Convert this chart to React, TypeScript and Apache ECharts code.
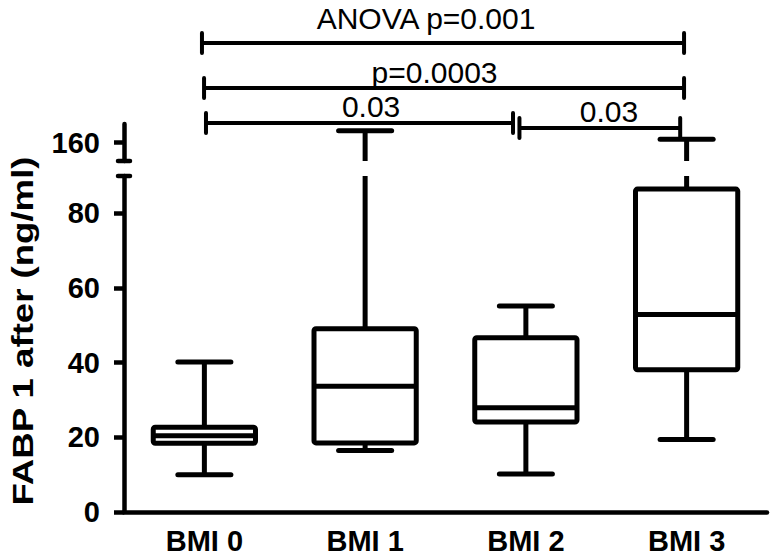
import React, { useEffect, useRef } from 'react';
import * as echarts from 'echarts';

// ---- data ----
const categories = ['BMI 0', 'BMI 1', 'BMI 2', 'BMI 3'];
const whiskerLow = [10.0, 16.5, 10.2, 19.4];
const quartile1 = [18.4, 18.5, 24.1, 38.1];
const medians = [20.4, 33.7, 27.9, 52.9];
const quartile3 = [22.7, 49.1, 46.7, 86.5];
const whiskerHigh = [40.2, 163.2, 55.2, 160.9];

const lowerTicks = [0, 20, 40, 60, 80];
const upperTicks = [160];
const LOWER_MIN = 0;
const LOWER_MAX = 90;
const UPPER_MIN = 155;
const UPPER_MAX = 165;

// comparison brackets (x in category units, level in px-from-top units of the annotation band)
const bracketLabels = ['ANOVA p=0.001', 'p=0.0003', '0.03', '0.03'];
const bracketStart = [-0.015, -0.002, 0.01, 1.96];
const bracketEnd = [2.984, 2.984, 1.92, 2.96];
const bracketLevel = [43, 88, 123, 128];
const labelCenter = [1.379, 1.432, 1.037, 2.517];
const labelLevel = [18.7, 72.5, 106.5, 111];

const yTitle = 'FABP 1 after (ng/ml)';

// ---- layout ----
const FONT = '"Liberation Sans", Arial, Helvetica, sans-serif';
const GRID_LEFT = 124;
const GRID_RIGHT = 7;
const LOWER_TOP = 176;
const LOWER_HEIGHT = 336;
const UPPER_TOP = 124;
const UPPER_HEIGHT = 37;
const ANNOT_HEIGHT = 124;

function makeBoxRenderer(lo: number, hi: number) {
  return (params: any, api: any) => {
    const x = api.value(0);
    const mn = api.value(1);
    const q1 = api.value(2);
    const md = api.value(3);
    const q3 = api.value(4);
    const mx = api.value(5);
    const band = api.size([1, 0])[0];
    const halfBox = band * 0.318;
    const halfCap = band * 0.165;
    const cx = api.coord([x, md])[0];
    const y = (v: number) => api.coord([x, v])[1];
    const children: any[] = [];
    const seg = (a: number, b: number) => {
      if (b < lo || a > hi) return;
      const a2 = Math.max(lo, a);
      const b2 = Math.min(hi, b);
      children.push({
        type: 'line',
        shape: { x1: cx, y1: y(a2), x2: cx, y2: y(b2) },
        style: { stroke: '#000', lineWidth: 5, lineCap: 'butt' },
      });
    };
    const cap = (v: number) => {
      if (v < lo || v > hi) return;
      children.push({
        type: 'line',
        shape: { x1: cx - halfCap, y1: y(v), x2: cx + halfCap, y2: y(v) },
        style: { stroke: '#000', lineWidth: 5, lineCap: 'round' },
      });
    };
    seg(mn, q1);
    seg(q3, mx);
    cap(mn);
    cap(mx);
    if (q1 >= lo && q3 <= hi) {
      children.push({
        type: 'rect',
        shape: { x: cx - halfBox, y: y(q3), width: 2 * halfBox, height: y(q1) - y(q3), r: 2 },
        style: { stroke: '#000', lineWidth: 5, fill: '#fff', lineJoin: 'round' },
      });
      children.push({
        type: 'line',
        shape: { x1: cx - halfBox, y1: y(md), x2: cx + halfBox, y2: y(md) },
        style: { stroke: '#000', lineWidth: 5 },
      });
    }
    return { type: 'group', children };
  };
}

function renderBracket(params: any, api: any) {
  const i = params.dataIndex;
  const s = api.coord([api.value(0), api.value(2)]);
  const e = api.coord([api.value(1), api.value(2)]);
  const t = api.coord([api.value(3), api.value(4)]);
  const lineStyle = { stroke: '#000', lineWidth: 4, lineCap: 'round' };
  return {
    type: 'group',
    children: [
      { type: 'line', shape: { x1: s[0], y1: s[1], x2: e[0], y2: e[1] }, style: { stroke: '#000', lineWidth: 4 } },
      { type: 'line', shape: { x1: s[0], y1: s[1] - 10, x2: s[0], y2: s[1] + 10 }, style: lineStyle },
      { type: 'line', shape: { x1: e[0], y1: e[1] - 10, x2: e[0], y2: e[1] + 10 }, style: lineStyle },
      {
        type: 'text',
        style: {
          text: bracketLabels[i],
          x: t[0],
          y: t[1],
          align: 'center',
          verticalAlign: 'middle',
          textAlign: 'center',
          textVerticalAlign: 'middle',
          fontSize: 30,
          fontFamily: FONT,
          fill: '#000',
        },
      },
    ],
  };
}

export default function App() {
  const ref = useRef<HTMLDivElement>(null);

  useEffect(() => {
    if (!ref.current) return;
    const chart = echarts.init(ref.current, undefined, { renderer: 'svg' });

    const boxData = categories.map((_, i) => [
      i,
      whiskerLow[i],
      quartile1[i],
      medians[i],
      quartile3[i],
      whiskerHigh[i],
    ]);
    const bracketData = bracketLabels.map((_, i) => [
      bracketStart[i],
      bracketEnd[i],
      bracketLevel[i],
      labelCenter[i],
      labelLevel[i],
    ]);

    const axisLineStyle = { color: '#000', width: 4.5 };
    const labelStyle = { color: '#000', fontSize: 29, fontWeight: 'bold' as const, fontFamily: FONT };

    chart.setOption({
      animation: false,
      backgroundColor: '#fff',
      textStyle: { fontFamily: FONT },
      grid: [
        { left: GRID_LEFT, right: GRID_RIGHT, top: LOWER_TOP, height: LOWER_HEIGHT },
        { left: GRID_LEFT, right: GRID_RIGHT, top: UPPER_TOP, height: UPPER_HEIGHT },
        { left: GRID_LEFT, right: GRID_RIGHT, top: 0, height: ANNOT_HEIGHT },
      ],
      xAxis: [
        {
          gridIndex: 0,
          type: 'category',
          data: categories,
          axisLine: { lineStyle: { ...axisLineStyle, cap: 'round' } },
          axisTick: { alignWithLabel: true, length: 10, lineStyle: axisLineStyle },
          axisLabel: { ...labelStyle, fontSize: 29, margin: 14 },
          splitLine: { show: false },
        },
        { gridIndex: 1, type: 'category', data: categories, show: false },
        { gridIndex: 2, type: 'value', min: -0.5, max: 3.5, show: false },
      ],
      yAxis: [
        {
          gridIndex: 0,
          type: 'value',
          min: LOWER_MIN,
          max: LOWER_MAX,
          interval: 20,
          axisLine: { show: true, lineStyle: axisLineStyle },
          axisTick: { show: true, length: 10, lineStyle: axisLineStyle, customValues: lowerTicks },
          axisLabel: { ...labelStyle, margin: 24, customValues: lowerTicks },
          splitLine: { show: false },
        },
        {
          gridIndex: 1,
          type: 'value',
          min: UPPER_MIN,
          max: UPPER_MAX,
          axisLine: { show: true, lineStyle: axisLineStyle },
          axisTick: { show: true, length: 10, lineStyle: axisLineStyle, customValues: upperTicks },
          axisLabel: { ...labelStyle, margin: 24, customValues: upperTicks },
          splitLine: { show: false },
        },
        { gridIndex: 2, type: 'value', min: 0, max: ANNOT_HEIGHT, inverse: true, show: false },
      ],
      series: [
        {
          type: 'custom',
          xAxisIndex: 0,
          yAxisIndex: 0,
          data: boxData,
          encode: { x: 0, y: [1, 2, 3, 4, 5] },
          renderItem: makeBoxRenderer(LOWER_MIN, LOWER_MAX),
        },
        {
          type: 'custom',
          xAxisIndex: 1,
          yAxisIndex: 1,
          data: boxData,
          encode: { x: 0, y: [1, 2, 3, 4, 5] },
          renderItem: makeBoxRenderer(UPPER_MIN, UPPER_MAX),
        },
        {
          type: 'custom',
          xAxisIndex: 2,
          yAxisIndex: 2,
          data: bracketData,
          encode: { x: [0, 1, 3], y: [2, 4] },
          renderItem: renderBracket,
        },
      ],
    });

    // axis break caps & rotated axis title
    const yUpperBottom = chart.convertToPixel({ yAxisIndex: 1 }, UPPER_MIN) as number;
    const yLowerTop = chart.convertToPixel({ yAxisIndex: 0 }, LOWER_MAX) as number;
    const capStyle = { stroke: '#000', lineWidth: 4.5, lineCap: 'round' };
    chart.setOption({
      graphic: [
        { type: 'line', shape: { x1: GRID_LEFT - 6, y1: yUpperBottom, x2: GRID_LEFT + 6, y2: yUpperBottom }, style: capStyle },
        { type: 'line', shape: { x1: GRID_LEFT - 6, y1: yLowerTop, x2: GRID_LEFT + 6, y2: yLowerTop }, style: capStyle },
        {
          type: 'text',
          x: 23,
          y: 331,
          rotation: Math.PI / 2,
          scaleX: 1.22,
          style: {
            text: yTitle,
            align: 'center',
            verticalAlign: 'middle',
            textAlign: 'center',
            textVerticalAlign: 'middle',
            fontSize: 30,
            fontWeight: 'bold',
            fontFamily: FONT,
            fill: '#000',
          },
        },
      ],
    });

    return () => chart.dispose();
  }, []);

  return (
    <div
      ref={ref}
      style={{ position: 'absolute', left: 0, top: 0, width: 774, height: 556, background: '#fff' }}
    />
  );
}
